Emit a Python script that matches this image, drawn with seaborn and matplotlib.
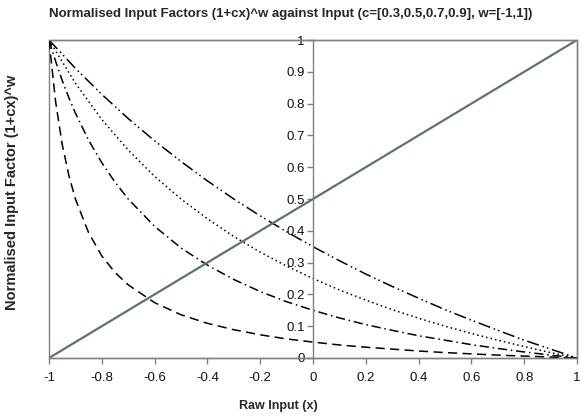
import matplotlib
matplotlib.use("Agg")
import matplotlib.pyplot as plt
import seaborn as sns
import pandas as pd
from matplotlib.ticker import FuncFormatter, MultipleLocator
from matplotlib.patches import Rectangle

# ---- data ----
x_main = [-1.0, -0.9, -0.8, -0.7, -0.6, -0.5, -0.4, -0.3, -0.2, -0.1, 0.0,
          0.1, 0.2, 0.3, 0.4, 0.5, 0.6, 0.7, 0.8, 0.9, 1.0]
c03 = [1.0, 0.911, 0.829, 0.753, 0.683, 0.618, 0.557, 0.500, 0.447, 0.397, 0.350,
       0.306, 0.264, 0.225, 0.188, 0.152, 0.119, 0.087, 0.056, 0.028, 0.0]
c05 = [1.0, 0.864, 0.750, 0.654, 0.571, 0.500, 0.438, 0.382, 0.333, 0.289, 0.250,
       0.214, 0.182, 0.152, 0.125, 0.100, 0.077, 0.056, 0.036, 0.017, 0.0]
x_steep = [-1.0, -0.975, -0.95, -0.925, -0.9, -0.85, -0.8, -0.75, -0.7, -0.6, -0.5,
           -0.4, -0.3, -0.2, -0.1, 0.0, 0.1, 0.2, 0.3, 0.4, 0.5, 0.6, 0.7, 0.8, 0.9, 1.0]
c07 = [1.0, 0.933, 0.873, 0.819, 0.770, 0.685, 0.614, 0.553, 0.500, 0.414, 0.346,
       0.292, 0.247, 0.209, 0.177, 0.150, 0.126, 0.105, 0.087, 0.070, 0.056, 0.042,
       0.030, 0.019, 0.009, 0.0]
c09 = [1.0, 0.806, 0.672, 0.575, 0.500, 0.394, 0.321, 0.269, 0.230, 0.174, 0.136,
       0.109, 0.089, 0.073, 0.060, 0.050, 0.041, 0.034, 0.028, 0.022, 0.017, 0.013,
       0.009, 0.006, 0.003, 0.0]
diag_x = [-1.0, 1.0]
diag_y = [0.0, 1.0]

title = "Normalised Input Factors (1+cx)^w against Input (c=[0.3,0.5,0.7,0.9], w=[-1,1])"
xlabel = "Raw Input (x)"
ylabel = "Normalised Input Factor (1+cx)^w"

sns.set_style("white")
plt.rcParams['font.family'] = ['Liberation Sans', 'DejaVu Sans']
plt.rcParams['axes.unicode_minus'] = False

fig = plt.figure(figsize=(5.81, 4.16), dpi=100)
ax = fig.add_axes([49/581, 1-358/416, (577-49)/581, (358-40)/416])

gray = '#808080'
styles = [
    (x_main, c03, (0, (8, 2.5, 1, 2, 1, 2.5))),
    (x_main, c05, (0, (1, 2))),
    (x_steep, c07, (0, (6, 2.5, 1, 2.5))),
    (x_steep, c09, (0, (6, 3.5))),
]
for xs, ys, ls in styles:
    df = pd.DataFrame({'x': xs, 'y': ys})
    sns.lineplot(data=df, x='x', y='y', ax=ax, color='black', linewidth=1.1,
                 linestyle=ls, sort=False, estimator=None)

ddf = pd.DataFrame({'x': diag_x, 'y': diag_y})
sns.lineplot(data=ddf, x='x', y='y', ax=ax, color='#5f7272', linewidth=1.6,
             estimator=None)

ax.set_xlim(-1, 1)
ax.set_ylim(0, 1)
ax.set_xlabel('')
ax.set_ylabel('')

for s in ['top', 'right']:
    ax.spines[s].set_visible(True)
    ax.spines[s].set_color(gray)
    ax.spines[s].set_linewidth(1.0)
ax.spines['left'].set_position(('data', 0))
ax.spines['left'].set_color(gray)
ax.spines['bottom'].set_color(gray)
ax.spines['left'].set_linewidth(1.0)
ax.spines['bottom'].set_linewidth(1.0)
ax.add_patch(Rectangle((0, 0), 1, 1, transform=ax.transAxes, fill=False,
                       edgecolor=gray, linewidth=1.0, clip_on=False, zorder=0))

ax.xaxis.set_major_locator(MultipleLocator(0.2))
ax.yaxis.set_major_locator(MultipleLocator(0.1))
fmt = FuncFormatter(lambda v, p: ('%g' % round(v, 2)))
ax.xaxis.set_major_formatter(fmt)
ax.yaxis.set_major_formatter(fmt)
ax.tick_params(axis='both', which='major', direction='out', length=4, width=1,
               color=gray, labelsize=9.5, labelcolor='#111111', bottom=True, left=True)
ax.tick_params(axis='x', pad=6)
ax.tick_params(axis='y', pad=2)

fig.text(0.5, 1-14/416, title, ha='center', va='center', fontsize=9.5, fontweight='bold')
fig.text(278/581, 1-406/416, xlabel, ha='center', va='center', fontsize=9, fontweight='bold')
fig.text(12/581, 1-192/416, ylabel, ha='center', va='center', rotation=90,
         fontsize=10.5, fontweight='bold')

fig.savefig('out.png', dpi=100)
